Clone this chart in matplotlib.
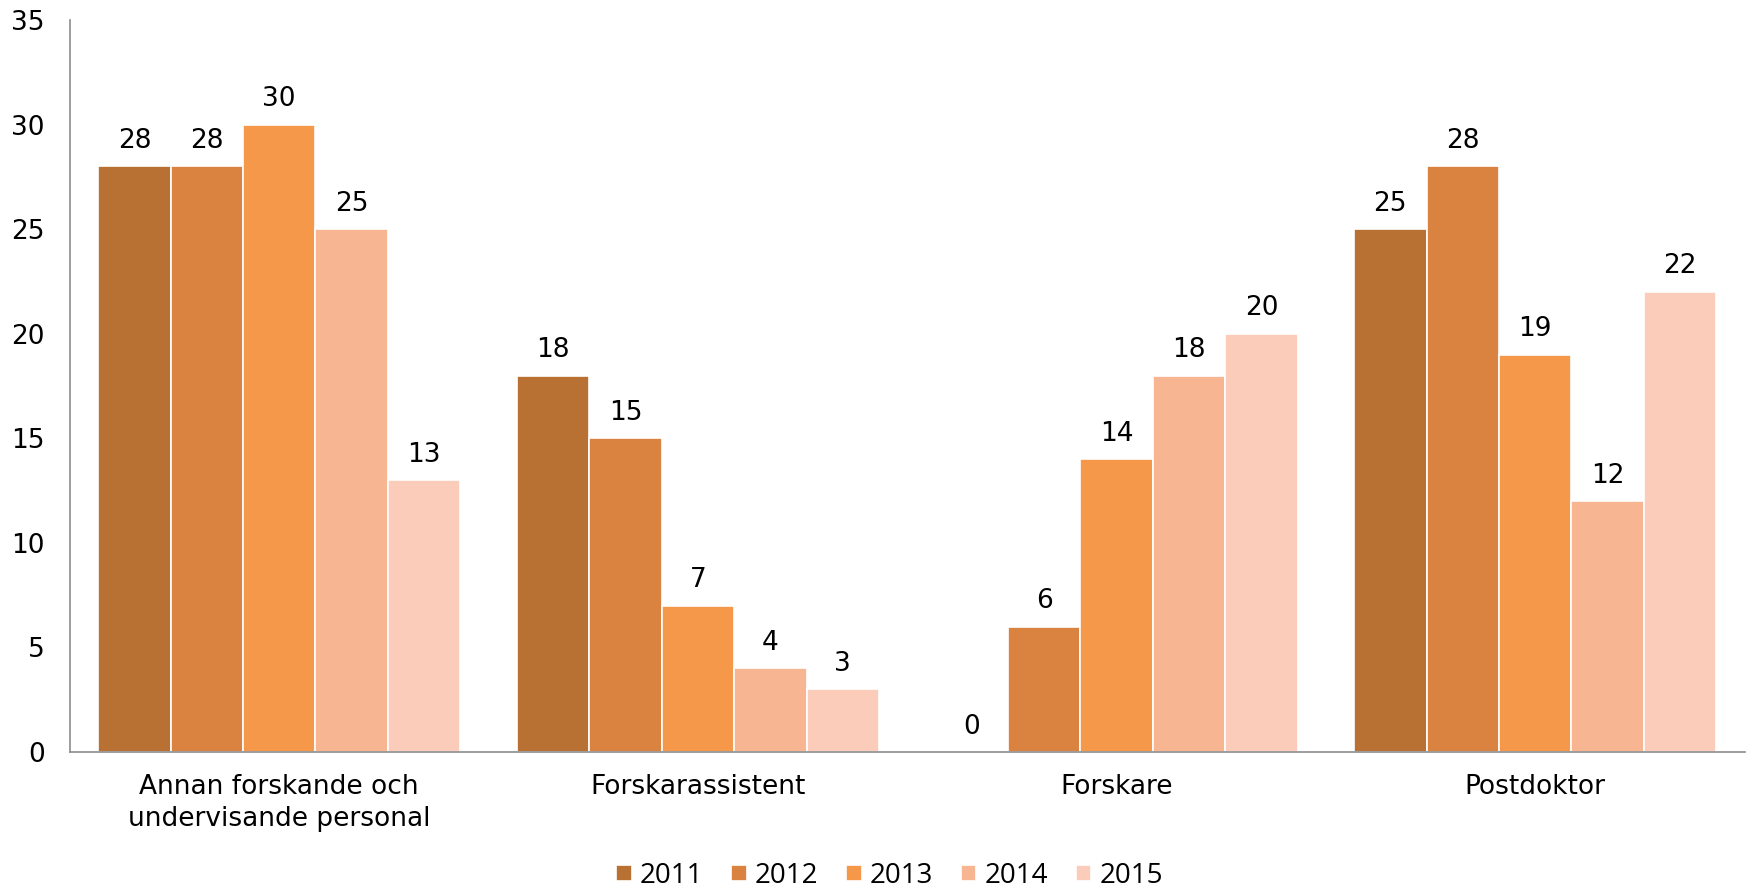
import matplotlib
matplotlib.use("Agg")
import matplotlib.pyplot as plt
import numpy as np

categories = ["Annan forskande och\nundervisande personal", "Forskarassistent", "Forskare", "Postdoktor"]
years = ["2011", "2012", "2013", "2014", "2015"]
v2011 = [28, 18, 0, 25]
v2012 = [28, 15, 6, 28]
v2013 = [30, 7, 14, 19]
v2014 = [25, 4, 18, 12]
v2015 = [13, 3, 20, 22]
series = [v2011, v2012, v2013, v2014, v2015]
colors = ["#B87033", "#DA8340", "#F5984A", "#F7B591", "#FACCB9"]

fig = plt.figure(figsize=(17.48, 8.9), dpi=100)
ax = fig.add_axes([0.040, 0.155, 0.958, 0.8225])

x = np.arange(len(categories))
w = 0.173
for i, (vals, c, yr) in enumerate(zip(series, colors, years)):
    pos = x + (i - 2) * w
    ax.bar(pos, vals, width=w, color=c, edgecolor="white", linewidth=1.2, label=yr)
    for p, v in zip(pos, vals):
        ax.text(p, v + 0.6, str(v), ha="center", va="bottom", fontsize=19, color="black")

ax.set_ylim(0, 35)
ax.set_yticks(range(0, 36, 5))
ax.set_xlim(-0.5, 3.5)
ax.set_xticks(x)
ax.set_xticklabels(categories, fontsize=19, linespacing=1.3)
ax.tick_params(axis="y", length=0, labelsize=19, pad=18)
ax.tick_params(axis="x", length=0, pad=16)
for s in ["top", "right"]:
    ax.spines[s].set_visible(False)
ax.spines["left"].set_color("#8C8C8C")
ax.spines["bottom"].set_color("#8C8C8C")
ax.spines["left"].set_linewidth(1.2)
ax.spines["bottom"].set_linewidth(1.2)

leg = fig.legend(loc="lower center", bbox_to_anchor=(0.509, -0.028), ncol=5, frameon=False,
                 prop={"family": "Open Sans", "size": 20}, handlelength=0.55, handleheight=0.55,
                 handletextpad=0.3, columnspacing=1.0)

fig.savefig("out.png", dpi=100)
